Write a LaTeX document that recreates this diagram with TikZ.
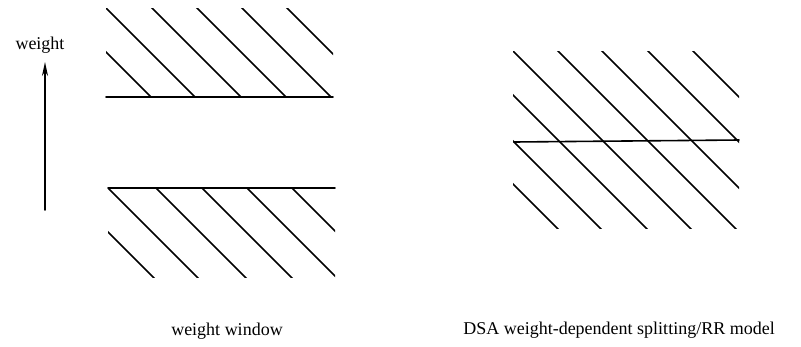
\documentclass[tikz,border=0pt]{standalone}
\usepackage{fontspec}
\setmainfont{Liberation Serif}
\usetikzlibrary{arrows.meta}
\begin{document}
\begin{tikzpicture}[x=1pt,y=-1pt,line width=1.6pt, line join=round, line cap=round, font=\fontsize{18}{20}\selectfont]
	\useasboundingbox (0,0) rectangle (801,346);
	% weight axis
	\coordinate (wtail) at (45,210);
	\coordinate (wtip) at (45,62);
	\draw [-{Stealth[length=14pt,width=6pt]}] (wtail)--(wtip);
	\node (wlabel) at (40,45) {weight};
	% weight window
	\draw (106,97)--(333,97) (108,188)--(335,188);
	\begin{scope}
		\clip (106,8) rectangle (333,97);
		\foreach \c in{54,98,144,189,234,279} \draw (\c,0)--++(110,110);
	\end{scope}
	\begin{scope}
		\clip (108,188) rectangle (335,277);
		\foreach \c in{-124,-80,-32,14,59,104} \draw (\c+170,170)--++(120,120);
	\end{scope}
	\node (wwlabel) at (227,331) {weight window};
	% DSA model
	\draw (514,142)--(739,140);
	\begin{scope}
		\clip (513,51) rectangle (739,228);
		\foreach \c in{329,372,418,462,507,551,597,642} \draw (\c,0)--++(240,240);
	\end{scope}
	\node (dsalabel) at (619,330) {DSA weight-dependent splitting/RR model};
\end{tikzpicture}
\end{document}
